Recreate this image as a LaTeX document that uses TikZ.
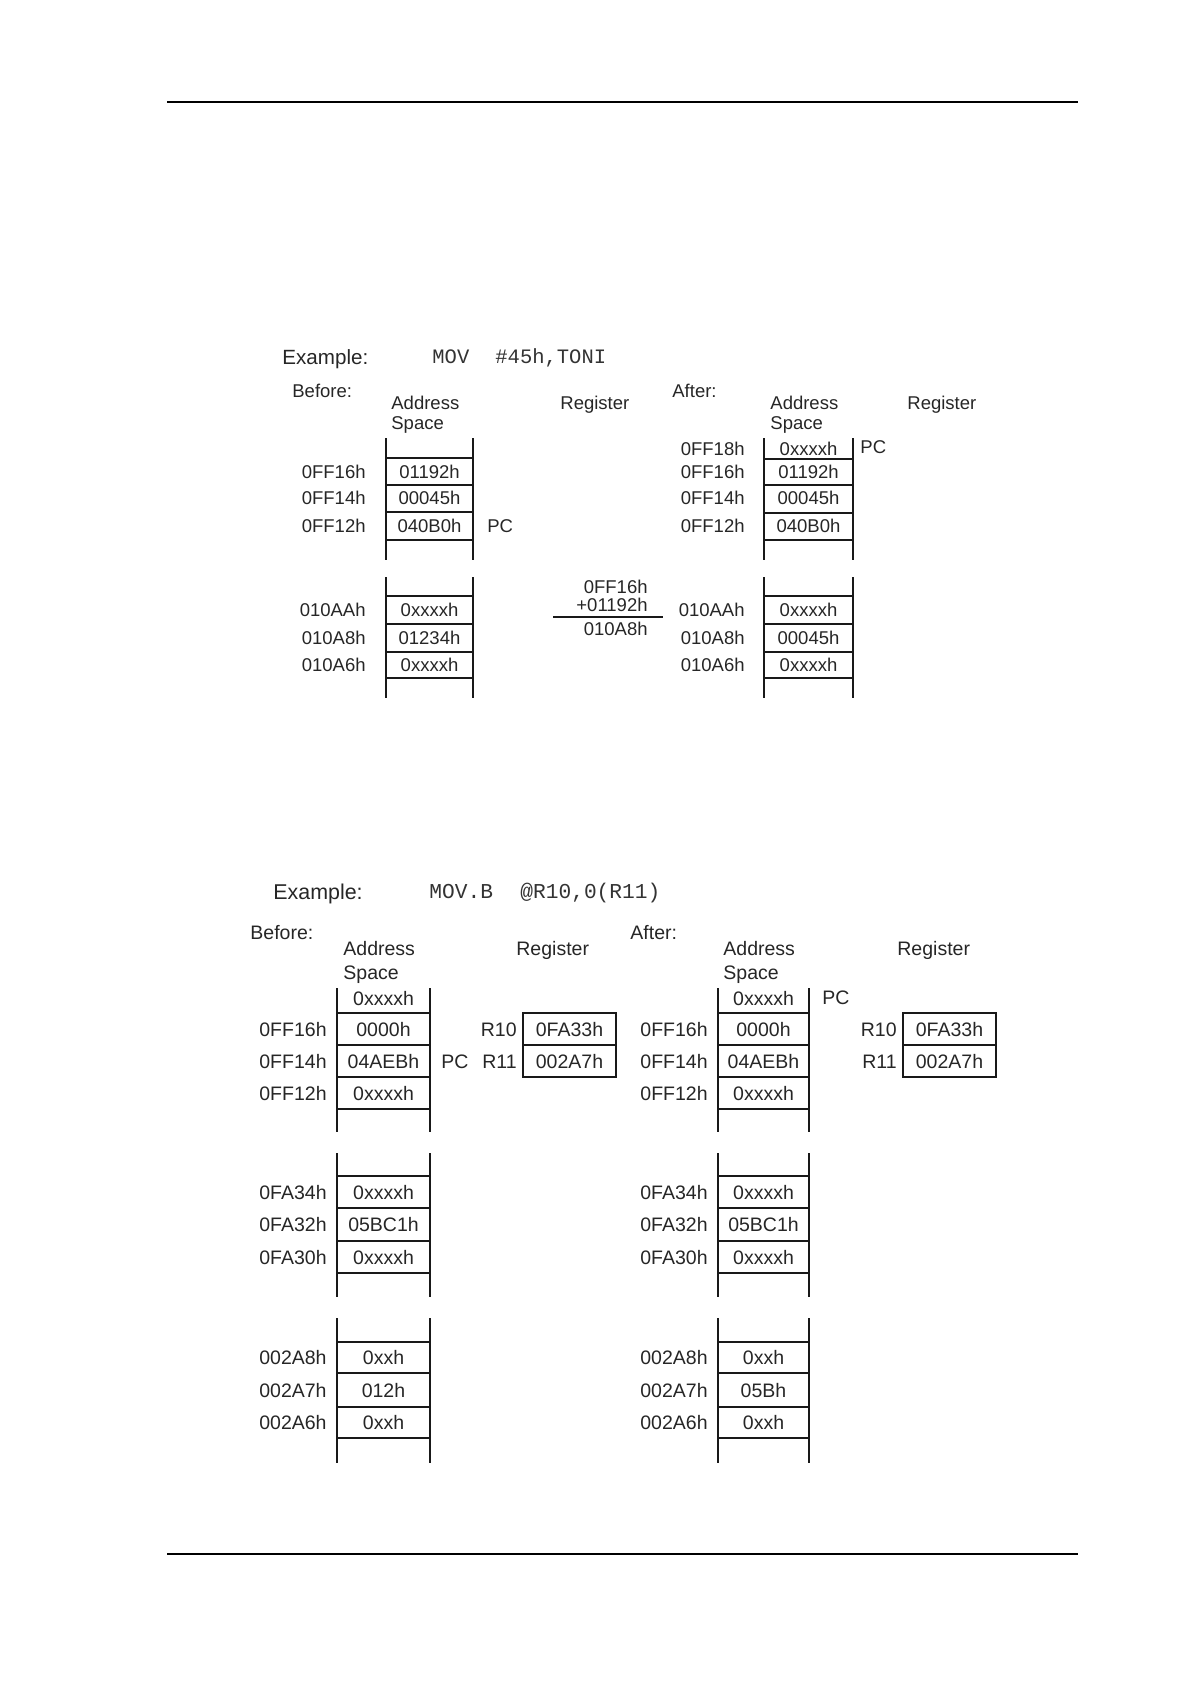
\documentclass[tikz,border=0pt]{standalone}
\usepackage{fontspec}
\setmainfont{Liberation Sans}
\newfontfamily\monofnt{Liberation Mono}
\newcommand\fA{\fontsize{9.25}{11}\selectfont}
\newcommand\fAbig{\fontsize{10.3}{12}\selectfont}
\newcommand\fB{\fontsize{9.75}{11.5}\selectfont}
\newcommand\fBbig{\fontsize{10.7}{12.5}\selectfont}
\newcommand\mA{\monofnt\fontsize{10.25}{12}\selectfont}
\newcommand\mB{\monofnt\fontsize{10.6}{12.5}\selectfont}
\begin{document}
\begin{tikzpicture}[x=0.5pt,y=-0.5pt,
  tA/.style={font=\fA, inner sep=0pt, text=black!85, anchor=base, yshift=-3.3pt},
  tB/.style={font=\fB, inner sep=0pt, text=black!85, anchor=base, yshift=-3.5pt},
  lw/.style={anchor=base west},
  le/.style={anchor=base east},
  exA/.style={font=\fAbig, inner sep=0pt, text=black!85, anchor=base west, yshift=-3.7pt},
  exB/.style={font=\fBbig, inner sep=0pt, text=black!85, anchor=base west, yshift=-3.8pt},
  codeA/.style={font=\mA, inner sep=0pt, text=black!80, anchor=base west, yshift=-3.2pt},
  codeB/.style={font=\mB, inner sep=0pt, text=black!80, anchor=base west, yshift=-3.3pt},
  rail/.style={line width=1.4pt, black!90},
  rung/.style={line width=1.2pt, black!90},
  rule/.style={line width=1pt, black}]
\useasboundingbox (0,0) rectangle (1191,1685);
% page rules
\draw[rule] (167,102) -- (1078,102);
\draw[rule] (167,1554) -- (1078,1554);

% ================= TOP EXAMPLE =================
\node[exA] (exa) at (282,357) {Example:};
\node[codeA] (codea1) at (432,357) {MOV};
\node[codeA] (codea2) at (495,357) {\#45h,TONI};
\node[tA,lw] (befa) at (292,391) {Before:};
\node[tA,lw] (adra1) at (391,403) {Address};
\node[tA,lw] (spca1) at (391,423) {Space};
\node[tA,lw] (rega1) at (560,403) {Register};
\node[tA,lw] (afta) at (672,391) {After:};
\node[tA,lw] (adra2) at (770,403) {Address};
\node[tA,lw] (spca2) at (770,423) {Space};
\node[tA,lw] (rega2) at (907,403) {Register};

% ladders rails
\foreach \xa/\xb/\ya/\yb in {386/473/438/560, 386/473/577/698, 764/853/438/560, 764/853/577/698}
  \draw[rail] (\xa,\ya) -- (\xa,\yb) (\xb,\ya) -- (\xb,\yb);
% rungs
\foreach \xa/\xb/\y in {386/473/458, 386/473/485, 386/473/512, 386/473/540,
                        386/473/596, 386/473/624, 386/473/652, 386/473/678,
                        764/853/459, 764/853/485, 764/853/513, 764/853/540,
                        764/853/596, 764/853/624, 764/853/652, 764/853/678}
  \draw[rung] (\xa,\y) -- (\xb,\y);

% left upper cells and addresses
\foreach \n/\y/\a/\v in {1/472/0FF16h/01192h, 2/498/0FF14h/00045h, 3/526/0FF12h/040B0h,
                         4/610/010AAh/0xxxxh, 5/638/010A8h/01234h, 6/665/010A6h/0xxxxh}{
  \node[tA,le] (aal\n) at (366,\y) {\a};
  \node[tA] (val\n) at (429.5,\y) {\v};
}
\node[tA,lw] (pca) at (487,526) {PC};

% right cells and addresses
\foreach \n/\y/\a/\v in {0/449/0FF18h/0xxxxh, 1/472/0FF16h/01192h, 2/498/0FF14h/00045h, 3/526/0FF12h/040B0h,
                         4/610/010AAh/0xxxxh, 5/638/010A8h/00045h, 6/665/010A6h/0xxxxh}{
  \node[tA,le] (aar\n) at (745,\y) {\a};
  \node[tA] (var\n) at (808.5,\y) {\v};
}
\node[tA,lw] (pcb) at (860,447) {PC};

% address computation
\node[tA,le] (suma) at (648,587) {0FF16h};
\node[tA,le] (sumb) at (648,605) {+01192h};
\node[tA,le] (sumc) at (648,629) {010A8h};
\coordinate (suml) at (553,617);
\coordinate (sumr) at (663,617);
\draw[line width=1.1pt, black!90] (suml) -- (sumr);

% ================= BOTTOM EXAMPLE =================
\node[exB] (exb) at (273,892) {Example:};
\node[codeB] (codeb1) at (429,892) {MOV.B};
\node[codeB] (codeb2) at (520,892) {@R10,0(R11)};
\node[tB,lw] (befb) at (250,932) {Before:};
\node[tB,lw] (adrb1) at (343,948) {Address};
\node[tB,lw] (spcb1) at (343,972) {Space};
\node[tB,lw] (regb1) at (516,948) {Register};
\node[tB,lw] (aftb) at (630,932) {After:};
\node[tB,lw] (adrb2) at (723,948) {Address};
\node[tB,lw] (spcb2) at (723,972) {Space};
\node[tB,lw] (regb2) at (897,948) {Register};

% rails
\foreach \xa/\xb in {337/430, 718/809}{
  \foreach \ya/\yb in {988/1132, 1153/1297, 1318/1463}
    \draw[rail] (\xa,\ya) -- (\xa,\yb) (\xb,\ya) -- (\xb,\yb);
  \foreach \y in {1013,1045,1077,1109, 1176,1208,1241,1273, 1342,1373,1407,1438}
    \draw[rung] (\xa,\y) -- (\xb,\y);
}

% left cells
\node[tB] (vbl0) at (383.5,998) {0xxxxh};
\foreach \n/\y/\a/\v in {1/1029/0FF16h/0000h, 2/1061/0FF14h/04AEBh, 3/1093/0FF12h/0xxxxh,
                         4/1192/0FA34h/0xxxxh, 5/1224/0FA32h/05BC1h, 6/1257/0FA30h/0xxxxh,
                         7/1357/002A8h/0xxh, 8/1390/002A7h/012h, 9/1422/002A6h/0xxh}{
  \node[tB,le] (abl\n) at (327,\y) {\a};
  \node[tB] (vbl\n) at (383.5,\y) {\v};
}
\node[tB,lw] (pcc) at (441,1061) {PC};

% right cells
\node[tB] (vbr0) at (763.5,998) {0xxxxh};
\foreach \n/\y/\a/\v in {1/1029/0FF16h/0000h, 2/1061/0FF14h/04AEBh, 3/1093/0FF12h/0xxxxh,
                         4/1192/0FA34h/0xxxxh, 5/1224/0FA32h/05BC1h, 6/1257/0FA30h/0xxxxh,
                         7/1357/002A8h/0xxh, 8/1390/002A7h/05Bh, 9/1422/002A6h/0xxh}{
  \node[tB,le] (abr\n) at (708,\y) {\a};
  \node[tB] (vbr\n) at (763.5,\y) {\v};
}
\node[tB,lw] (pcd) at (822,997) {PC};

% register boxes
\foreach \xa/\xb/\s in {523/616/l, 903/996/r}{
  \draw[rung] (\xa,1013) rectangle (\xb,1077);
  \draw[rung] (\xa,1045) -- (\xb,1045);
  \node[tB] (rv10\s) at ({(\xa+\xb)/2},1029) {0FA33h};
  \node[tB] (rv11\s) at ({(\xa+\xb)/2},1061) {002A7h};
  \node[tB,le] (rn10\s) at (\xa-6,1029) {R10};
  \node[tB,le] (rn11\s) at (\xa-6,1061) {R11};
}
\end{tikzpicture}
\end{document}
